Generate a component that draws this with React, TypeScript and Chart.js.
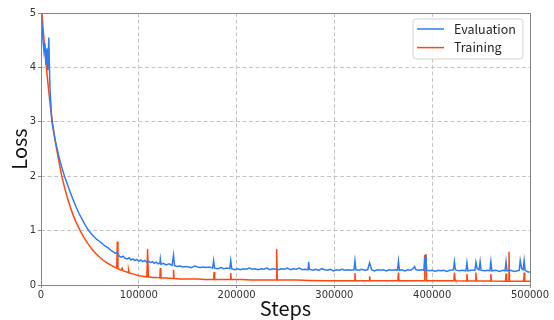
import React, { useEffect, useRef } from "react";
import { Chart, registerables } from "chart.js";

Chart.register(...registerables);

const seriesLabels = ["Evaluation", "Training"];
const seriesColors = ["#2f7cf2", "#ff4810"];
const xTickValues = [0, 100000, 200000, 300000, 400000, 500000];
const yTickValues = [0, 1, 2, 3, 4, 5];
const xTitle = "Steps";
const yTitle = "Loss";

const evalPoints: [number, number][] = [
  [0, 5.1], [1500, 4.6], [3000, 4.3], [4000, 4.45], [5000, 4.05], [6000, 4.35], [7000, 3.95], [8000, 4.55], [9000, 3.7],
  [10000, 3.35], [11000, 3.02], [13000, 2.8], [15000, 2.62], [18000, 2.38], [21000, 2.18], [24000, 2.0], [27000, 1.85],
  [30000, 1.7], [33000, 1.56], [36000, 1.43], [39000, 1.31], [42000, 1.21], [45000, 1.11], [48000, 1.02], [51000, 0.95],
  [54000, 0.89], [57000, 0.84], [60000, 0.8], [62000, 0.77], [64000, 0.74], [66000, 0.71], [68000, 0.69], [70000, 0.66],
  [72000, 0.63], [74000, 0.61], [76000, 0.58], [78000, 0.6], [80000, 0.53], [82000, 0.51], [84000, 0.53], [86000, 0.49],
  [88000, 0.48], [90000, 0.5], [92000, 0.46], [94000, 0.48], [96000, 0.45], [98000, 0.47], [100000, 0.44], [102000, 0.46],
  [104000, 0.43], [106000, 0.45], [108000, 0.42], [110000, 0.44], [112000, 0.41], [114000, 0.43], [116000, 0.4],
  [118000, 0.42], [120000, 0.39], [121500, 0.4], [122000, 0.48], [122700, 0.38], [125000, 0.4], [128000, 0.37],
  [131000, 0.39], [134000, 0.36], [135500, 0.55], [136500, 0.36], [139000, 0.34], [142000, 0.35], [145000, 0.33],
  [148000, 0.34], [151000, 0.33], [154000, 0.32], [157000, 0.35], [160000, 0.33], [163000, 0.32], [166000, 0.33],
  [169000, 0.32], [172000, 0.33], [175500, 0.31], [176500, 0.45], [177500, 0.31], [181000, 0.3], [184000, 0.32],
  [187000, 0.3], [190000, 0.31], [193000, 0.3], [194000, 0.45], [195000, 0.3], [198000, 0.28], [201000, 0.3],
  [204000, 0.28], [207000, 0.3], [210000, 0.29], [213000, 0.31], [216000, 0.29], [219000, 0.3], [222000, 0.28],
  [225000, 0.3], [228000, 0.29], [231000, 0.31], [234000, 0.28], [237000, 0.3], [240000, 0.29], [243000, 0.28],
  [246000, 0.3], [249000, 0.29], [252000, 0.31], [255000, 0.28], [258000, 0.3], [261000, 0.29], [264000, 0.31],
  [267000, 0.28], [270000, 0.29], [273000, 0.28], [273700, 0.42], [274500, 0.29], [278000, 0.27], [281000, 0.29],
  [284000, 0.27], [287000, 0.3], [290000, 0.28], [293000, 0.27], [296000, 0.29], [299000, 0.26], [302000, 0.28],
  [305000, 0.27], [308000, 0.29], [311000, 0.27], [314000, 0.28], [317000, 0.27], [320000, 0.28], [321000, 0.45],
  [322000, 0.28], [325000, 0.27], [328000, 0.29], [331000, 0.27], [334000, 0.28], [336000, 0.41], [338000, 0.28],
  [341000, 0.26], [344000, 0.28], [347000, 0.27], [350000, 0.28], [353000, 0.26], [356000, 0.28], [359000, 0.27],
  [362000, 0.28], [364500, 0.27], [365500, 0.44], [366500, 0.27], [369000, 0.28], [372000, 0.26], [375000, 0.28],
  [378000, 0.27], [380500, 0.3], [382000, 0.34], [383500, 0.28], [386000, 0.27], [389000, 0.28], [391500, 0.27],
  [392300, 0.5], [393000, 0.35], [393600, 0.55], [394300, 0.27], [397000, 0.26], [400000, 0.27], [403000, 0.25],
  [406000, 0.27], [409000, 0.26], [412000, 0.27], [415000, 0.25], [418000, 0.27], [421700, 0.28], [422700, 0.43],
  [423700, 0.28], [427000, 0.26], [431000, 0.27], [434500, 0.26], [435500, 0.41], [436500, 0.26], [440000, 0.27],
  [443700, 0.27], [444700, 0.42], [446000, 0.3], [448000, 0.28], [449000, 0.43], [450000, 0.27], [454000, 0.26],
  [457000, 0.27], [459000, 0.26], [460000, 0.43], [461000, 0.26], [465000, 0.27], [469000, 0.25], [472000, 0.27],
  [474500, 0.26], [475500, 0.43], [476500, 0.26], [480000, 0.27], [484000, 0.25], [487000, 0.26], [489000, 0.27],
  [490000, 0.45], [491500, 0.3], [493000, 0.28], [494000, 0.45], [495000, 0.27], [498000, 0.24], [500000, 0.24],
];

const trainPoints: [number, number][] = [
  [0, 5.3], [2000, 4.75], [4000, 4.3], [6000, 3.9], [8000, 3.55], [10000, 3.22], [12000, 2.95], [15000, 2.6],
  [18000, 2.3], [21000, 2.02], [24000, 1.8], [27000, 1.6], [30000, 1.43], [33000, 1.28], [36000, 1.15], [40000, 1.0],
  [44000, 0.87], [48000, 0.76], [52000, 0.66], [56000, 0.58], [60000, 0.51], [64000, 0.45], [68000, 0.4], [72000, 0.36],
  [76000, 0.32], [77500, 0.31], [78000, 0.8], [78700, 0.3], [82000, 0.27], [83000, 0.31], [84000, 0.26], [86000, 0.25],
  [89000, 0.23], [89500, 0.28], [90200, 0.22], [95000, 0.2], [100000, 0.17], [104000, 0.16], [108200, 0.15],
  [109000, 0.66], [109800, 0.15], [114000, 0.14], [118000, 0.14], [121500, 0.13], [122000, 0.31], [122600, 0.13],
  [128000, 0.13], [135000, 0.12], [135500, 0.28], [136100, 0.12], [142000, 0.11], [150000, 0.11], [160000, 0.11],
  [168000, 0.1], [176500, 0.1], [177000, 0.24], [177600, 0.1], [186000, 0.1], [193500, 0.1], [194000, 0.22],
  [194600, 0.1], [205000, 0.1], [215000, 0.09], [225000, 0.09], [234000, 0.09], [240500, 0.09], [241000, 0.66],
  [241600, 0.09], [250000, 0.09], [262000, 0.09], [274000, 0.085], [290000, 0.08], [305000, 0.08], [320500, 0.08],
  [321000, 0.22], [321600, 0.08], [335500, 0.08], [336000, 0.16], [336600, 0.08], [350000, 0.08], [365000, 0.08],
  [365500, 0.23], [366100, 0.08], [380000, 0.08], [392000, 0.08], [392300, 0.55], [393000, 0.3], [393600, 0.57],
  [394200, 0.08], [410000, 0.08], [422200, 0.08], [422700, 0.23], [423400, 0.1], [424000, 0.08], [435000, 0.075],
  [435500, 0.2], [436100, 0.075], [444200, 0.075], [444700, 0.23], [445300, 0.08], [459500, 0.075], [460000, 0.2],
  [460600, 0.075], [475000, 0.07], [475500, 0.21], [476100, 0.07], [478000, 0.07], [478500, 0.61], [479100, 0.07],
  [493500, 0.07], [494000, 0.23], [494600, 0.07], [500000, 0.07],
];

const framePlugin = {
  id: "frame",
  afterDatasetsDraw(chart: any) {
    const { ctx, chartArea } = chart;
    ctx.save();
    ctx.strokeStyle = "#858585";
    ctx.lineWidth = 1;
    ctx.strokeRect(chartArea.left + 0.5, chartArea.top + 0.5, chartArea.right - chartArea.left, chartArea.bottom - chartArea.top);
    ctx.restore();
  },
};

const legendPlugin = {
  id: "boxLegend",
  afterDraw(chart: any) {
    const { ctx, chartArea } = chart;
    const w = 110;
    const h = 40;
    const x = chartArea.right - 7 - w;
    const y = chartArea.top + 6;
    ctx.save();
    ctx.beginPath();
    const r = 3;
    ctx.moveTo(x + r, y);
    ctx.lineTo(x + w - r, y);
    ctx.quadraticCurveTo(x + w, y, x + w, y + r);
    ctx.lineTo(x + w, y + h - r);
    ctx.quadraticCurveTo(x + w, y + h, x + w - r, y + h);
    ctx.lineTo(x + r, y + h);
    ctx.quadraticCurveTo(x, y + h, x, y + h - r);
    ctx.lineTo(x, y + r);
    ctx.quadraticCurveTo(x, y, x + r, y);
    ctx.closePath();
    ctx.fillStyle = "rgba(255,255,255,0.85)";
    ctx.fill();
    ctx.strokeStyle = "#d4d4d4";
    ctx.lineWidth = 1;
    ctx.stroke();
    chart.data.datasets.forEach((ds: any, i: number) => {
      const ly = y + 10 + i * 18.6;
      ctx.beginPath();
      ctx.strokeStyle = ds.borderColor;
      ctx.lineWidth = 1.5;
      ctx.moveTo(x + 4, ly);
      ctx.lineTo(x + 31, ly);
      ctx.stroke();
      ctx.fillStyle = "#262626";
      ctx.font = '12.5px "Noto Sans CJK JP", "Noto Sans", sans-serif';
      ctx.textBaseline = "middle";
      ctx.textAlign = "left";
      ctx.fillText(ds.label, x + 41, ly);
    });
    ctx.restore();
  },
};

export default function App() {
  const ref = useRef<HTMLCanvasElement>(null);
  useEffect(() => {
    document.body.style.margin = "0";
    const canvas = ref.current;
    if (!canvas) return;
    const chart = new Chart(canvas, {
      type: "line",
      data: {
        datasets: [
          {
            label: seriesLabels[0],
            data: evalPoints.map(([x, y]) => ({ x, y })),
            borderColor: seriesColors[0],
            backgroundColor: seriesColors[0],
            borderWidth: 1.5,
            pointRadius: 0,
            tension: 0,
          },
          {
            label: seriesLabels[1],
            data: trainPoints.map(([x, y]) => ({ x, y })),
            borderColor: seriesColors[1],
            backgroundColor: seriesColors[1],
            borderWidth: 1.5,
            pointRadius: 0,
            tension: 0,
          },
        ],
      },
      options: {
        responsive: false,
        animation: false,
        layout: { padding: { top: 13, right: 24, left: 0, bottom: 0 } },
        plugins: { legend: { display: false }, tooltip: { enabled: false } },
        scales: {
          x: {
            type: "linear",
            min: 0,
            max: 500000,
            afterBuildTicks: (scale: any) => {
              scale.ticks = xTickValues.map((v) => ({ value: v }));
            },
            afterFit: (scale: any) => {
              scale.height = 35;
            },
            ticks: {
              padding: 1,
              maxRotation: 0,
              autoSkip: false,
              color: "#333",
              font: { family: '"DejaVu Sans", sans-serif', size: 10 },
              callback: (v: any) => String(v),
            },
            grid: { color: "#c4c4c4", drawTicks: true, tickLength: 3, tickColor: "#888", lineWidth: 1 },
            border: { display: false, dash: [4, 2.5] },
            title: {
              display: true,
              text: xTitle,
              color: "#111",
              padding: { top: 0, bottom: 0 },
              font: { family: '"Noto Sans CJK JP", "Noto Sans", sans-serif', size: 20 },
            },
          },
          y: {
            type: "linear",
            min: 0,
            max: 5,
            afterBuildTicks: (scale: any) => {
              scale.ticks = yTickValues.map((v) => ({ value: v }));
            },
            afterFit: (scale: any) => {
              scale.width = 41;
            },
            ticks: {
              padding: 2,
              color: "#333",
              font: { family: '"DejaVu Sans", sans-serif', size: 10 },
              callback: (v: any) => String(v),
            },
            grid: { color: "#c4c4c4", drawTicks: true, tickLength: 3, tickColor: "#888", lineWidth: 1 },
            border: { display: false, dash: [4, 2.5] },
            title: {
              display: true,
              text: yTitle,
              color: "#111",
              padding: { top: 7, bottom: 0 },
              font: { family: '"Noto Sans CJK JP", "Noto Sans", sans-serif', size: 20 },
            },
          },
        },
      },
      plugins: [framePlugin, legendPlugin],
    } as any);
    return () => chart.destroy();
  }, []);
  return <canvas ref={ref} width={554} height={320} style={{ display: "block", width: 554, height: 320 }} />;
}
